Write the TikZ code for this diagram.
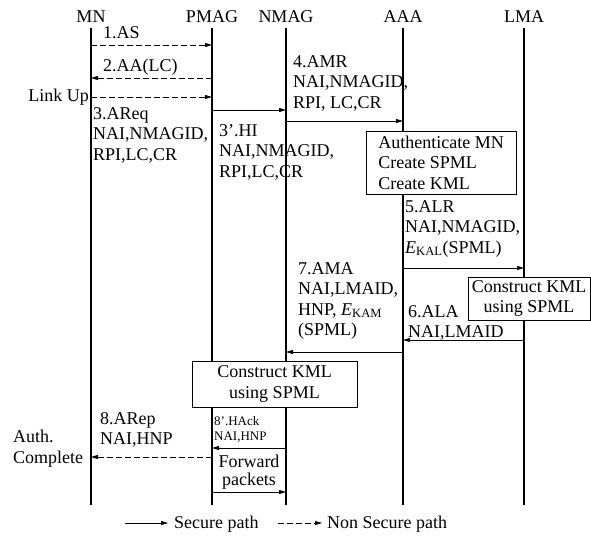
\documentclass[tikz,border=0pt]{standalone}
\usepackage{fontspec}
\setmainfont{Liberation Serif}
\usetikzlibrary{arrows.meta}

\begin{document}
\begin{tikzpicture}[x=1pt,y=-1pt,
  lbl/.style={font=\fontsize{18}{20.5}\selectfont,inner sep=0pt,align=left},
  msg/.style={lbl,anchor=north west},
  life/.style={line width=1.1pt},
  secure/.style={line width=0.8pt,-{Triangle[length=7pt,width=4pt]}},
  nonsec/.style={secure,dash pattern=on 6pt off 3pt},
  actbox/.style={lbl,draw,fill=white,line width=0.9pt,align=center}]
  \useasboundingbox (0,0) rectangle (591,535);
  % entities and their lifelines
  \foreach \n/\t/\x in {mn/MN/91,pmag/PMAG/212,nmag/NMAG/286,aaa/AAA/403,lma/LMA/524} {
    \node[lbl,anchor=base] (\n) at (\x,23) {\t};
    \coordinate (\n-top) at (\x,28);
    \coordinate (\n-bot) at (\x,505);
    \draw[life] (\n-top) -- (\n-bot);
  }
  % messages
  \foreach \a/\b/\y/\s in {mn/pmag/45/nonsec, pmag/mn/78/nonsec, mn/pmag/97/nonsec,
      pmag/nmag/110/secure, nmag/aaa/121/secure, aaa/lma/268/secure, lma/aaa/340/secure,
      aaa/nmag/352/secure, nmag/pmag/448/secure, pmag/mn/457/nonsec, pmag/nmag/492/secure}
    \draw[\s] (\a-top |- 0,\y) -- (\b-top |- 0,\y);
  % processing boxes
  \node[actbox,align=left,minimum width=150pt,minimum height=63pt] (auth) at (441,162.5) {Authenticate MN\\Create SPML\\Create KML};
  \node[actbox,minimum width=122pt,minimum height=43pt] (kmlL) at (529,298.5) {Construct KML\\using SPML};
  \node[actbox,minimum width=165pt,minimum height=46pt] (kmlN) at (274.5,384) {Construct KML\\using SPML};
  % message labels
  \node[msg] (as) at (103,26) {1.AS};
  \node[msg] (aa) at (103,59) {2.AA(LC)};
  \node[lbl,anchor=base east] (linkup) at (89,101) {Link Up};
  \node[msg] (areq) at (93,107) {3.AReq\\NAI,NMAGID,\\RPI,LC,CR};
  \node[msg] (hi) at (219,124) {3'.HI\\NAI,NMAGID,\\RPI,LC,CR};
  \node[msg] (amr) at (293,55) {4.AMR\\NAI,NMAGID,\\RPI, LC,CR};
  \node[msg] (alr) at (405,200) {5.ALR\\NAI,NMAGID,\\\textit{E}\textsubscript{KAL}(SPML)};
  \node[msg] (ala) at (408,305) {6.ALA\\NAI,LMAID};
  \node[msg] (ama) at (298,262) {7.AMA\\NAI,LMAID,\\HNP, \textit{E}\textsubscript{KAM}\\(SPML)};
  \node[msg] (arep) at (100,412) {8.ARep\\NAI,HNP};
  \node[msg,font=\fontsize{13}{15}\selectfont] (hack) at (214,416) {8'.HAck\\NAI,HNP};
  \node[msg] (done) at (13,430) {Auth.\\Complete};
  \node[lbl,anchor=north,align=center,font=\fontsize{18}{18}\selectfont] (fwd) at (249,455) {Forward\\packets};
  % legend
  \coordinate (secA) at (125,523);
  \coordinate (secB) at (168,523);
  \draw[secure] (secA) -- (secB);
  \node[lbl,anchor=base west] (secT) at (174,528) {Secure path};
  \coordinate (nsA) at (278,523);
  \coordinate (nsB) at (322,523);
  \draw[nonsec] (nsA) -- (nsB);
  \node[lbl,anchor=base west] (nsT) at (327,528) {Non Secure path};
\end{tikzpicture}
\end{document}
